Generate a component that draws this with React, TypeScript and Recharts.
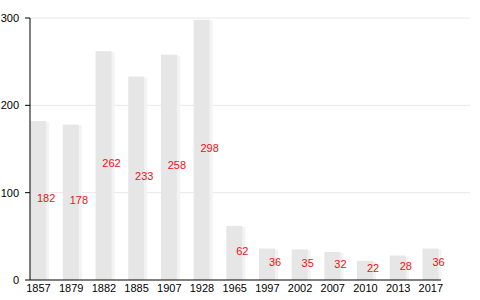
import { BarChart, Bar, XAxis, YAxis, CartesianGrid, LabelList } from 'recharts';

const years = ['1857', '1879', '1882', '1885', '1907', '1928', '1965', '1997', '2002', '2007', '2010', '2013', '2017'];
const population = [182, 178, 262, 233, 258, 298, 62, 36, 35, 32, 22, 28, 36];
const yTicks = [0, 100, 200, 300];

const data = years.map((year, i) => ({ year, value: population[i] }));

const FONT = '"Liberation Sans", Arial, sans-serif';

// bar with a faint drop shadow on the right
function ShadowBar(props: any) {
  const { x, y, width, height } = props;
  if (!height) return null;
  return (
    <g>
      <rect x={x + 3} y={y + 1} width={width} height={height - 1} fill="#f3f3f3" />
      <rect x={x} y={y} width={width} height={height} fill="#e6e6e6" />
    </g>
  );
}

function ValueLabel(props: any) {
  const { x, y, width, height, value } = props;
  return (
    <text
      x={x + width}
      y={y + height / 2 - 2}
      dy="0.35em"
      textAnchor="middle"
      fill="#ee1111"
      fontSize={11}
      fontFamily={FONT}
    >
      {value}
    </text>
  );
}

function GridLine(props: any) {
  const { x1, y1, x2, y2, index } = props;
  if (index === 0) return null;
  return <line key={`grid-${index}`} x1={x1} y1={y1} x2={x2 + 29} y2={y2} stroke="#e8e8e8" strokeWidth={1} />;
}

export default function App() {
  return (
    <div style={{ position: 'absolute', left: 0, top: 0, width: 480, height: 300, background: '#fff' }}>
      <BarChart
        width={480}
        height={300}
        data={data}
        margin={{ top: 18, right: 39, bottom: 0, left: 0 }}
        style={{ fontFamily: FONT }}
      >
        <CartesianGrid vertical={false} horizontal={GridLine} />
        <XAxis
          dataKey="year"
          interval={0}
          height={20}
          padding={{ left: -7.85, right: -6.2 }}
          axisLine={{ stroke: '#000' }}
          tickLine={false}
          tickSize={2}
          tickMargin={2}
          tick={{ fill: '#000', fontSize: 11, fontFamily: FONT }}
        />
        <YAxis
          domain={[0, 300]}
          ticks={yTicks}
          width={30}
          axisLine={{ stroke: '#000' }}
          tickLine={{ stroke: '#000' }}
          tickSize={5}
          tickMargin={6}
          tick={{ fill: '#000', fontSize: 11, fontFamily: FONT }}
        />
        <Bar dataKey="value" barSize={16} shape={ShadowBar} isAnimationActive={false}>
          <LabelList dataKey="value" content={ValueLabel} />
        </Bar>
      </BarChart>
    </div>
  );
}
